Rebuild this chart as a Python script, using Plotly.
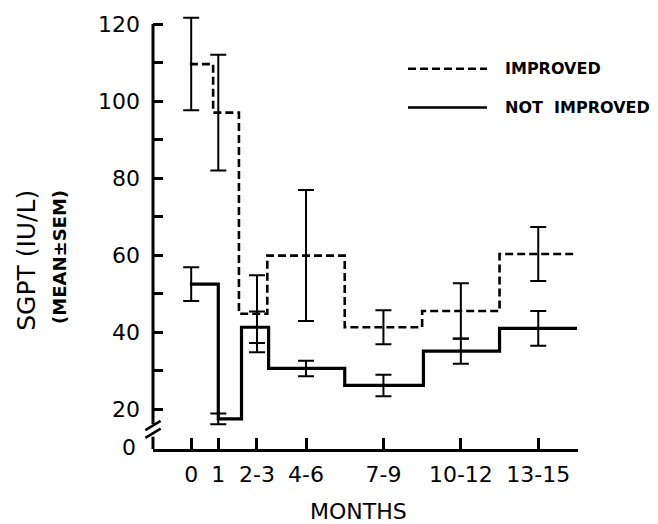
import plotly.graph_objects as go

# ---- data ----
categories = ["0", "1", "2-3", "4-6", "7-9", "10-12", "13-15"]
cat_pos = [0.55, 1.6, 3.1, 5.0, 8.0, 11.0, 14.0]          # month position of each group

improved_mean = [109.6, 97.0, 44.8, 59.9, 41.3, 45.5, 60.3]
improved_sem = [12.0, 15.0, 10.0, 17.0, 4.4, 7.2, 7.0]
improved_edges = [0.5, 1.4, 2.4, 3.5, 6.5, 9.5, 12.5, 15.5]

not_improved_mean = [52.5, 17.5, 41.3, 30.6, 26.2, 35.1, 41.0]
not_improved_sem = [4.4, 1.4, 4.1, 2.0, 2.8, 3.3, 4.5]
not_improved_edges = [0.5, 1.6, 2.5, 3.55, 6.5, 9.55, 12.5, 15.5]

y_major = [20, 40, 60, 80, 100, 120]
y_minor = [30, 50, 70, 90, 110]
y_bottom = 9.7      # broken axis: bottom of plot labelled "0"
y_top = 122.6
y_break = (12.9, 16.2)

FONT = "DejaVu Sans"
TOP_PX = 12
BOT_PX = 449
PLOT_H = BOT_PX - TOP_PX

fig = go.Figure()

# step lines
fig.add_trace(go.Scatter(
    x=improved_edges, y=improved_mean + [improved_mean[-1]],
    mode="lines", line=dict(shape="hv", color="black", width=2.6, dash="8px,4px"),
    showlegend=False, cliponaxis=False))
fig.add_trace(go.Scatter(
    x=not_improved_edges, y=not_improved_mean + [not_improved_mean[-1]],
    mode="lines", line=dict(shape="hv", color="black", width=3.2),
    showlegend=False, cliponaxis=False))

# error bars
for mean, sem in [(improved_mean, improved_sem), (not_improved_mean, not_improved_sem)]:
    fig.add_trace(go.Scatter(
        x=cat_pos, y=mean, mode="markers",
        marker=dict(size=1, color="rgba(0,0,0,0)"),
        error_y=dict(type="data", array=sem, visible=True, color="black",
                     thickness=2, width=8),
        showlegend=False, cliponaxis=False))

shapes = []
# y axis line with break
shapes.append(dict(type="line", xref="paper", yref="y", x0=0, x1=0, y0=120, y1=y_break[1],
                   line=dict(color="black", width=3)))
shapes.append(dict(type="line", xref="paper", yref="y", x0=0, x1=0, y0=y_break[0], y1=y_bottom,
                   line=dict(color="black", width=3)))
# break marks
for yc in [y_break[1] - 0.4, y_break[0] + 0.9]:
    shapes.append(dict(type="line", xref="paper", yref="y",
                       x0=-0.018, x1=0.018, y0=yc - 1.2, y1=yc + 1.2,
                       line=dict(color="black", width=2.5)))

def px_x(px):
    return (px - 153) / 425.0

def px_y(py):
    return (BOT_PX - py) / float(PLOT_H)

# legend (manual)
shapes.append(dict(type="line", xref="paper", yref="paper",
                   x0=px_x(408), x1=px_x(487), y0=px_y(67), y1=px_y(67),
                   line=dict(color="black", width=2.4, dash="8px,4px")))
shapes.append(dict(type="line", xref="paper", yref="paper",
                   x0=px_x(408), x1=px_x(487), y0=px_y(106), y1=px_y(106),
                   line=dict(color="black", width=2.6)))

annotations = [
    dict(xref="paper", yref="paper", x=px_x(503), y=px_y(67), xanchor="left", yanchor="middle",
         text="IMPROVED", showarrow=False, font=dict(family=FONT, size=16, color="black", weight="bold")),
    dict(xref="paper", yref="paper", x=px_x(503), y=px_y(106), xanchor="left", yanchor="middle",
         text="NOT  IMPROVED", showarrow=False, font=dict(family=FONT, size=16, color="black", weight="bold")),
    dict(xref="paper", yref="y", x=px_x(138), y=y_bottom + 0.4, xanchor="right", yanchor="middle",
         text="0", showarrow=False, font=dict(family=FONT, size=22, color="black")),
    dict(xref="paper", yref="paper", x=px_x(27), y=px_y(260), xanchor="center", yanchor="middle",
         text="SGPT (IU/L)", textangle=-90, showarrow=False,
         font=dict(family=FONT, size=25, color="black")),
    dict(xref="paper", yref="paper", x=px_x(60), y=px_y(256), xanchor="center", yanchor="middle",
         text="(MEAN±SEM)", textangle=-90, showarrow=False,
         font=dict(family=FONT, size=18, color="black", weight="bold")),
    dict(xref="paper", yref="paper", x=px_x(358), y=px_y(512), xanchor="center", yanchor="middle",
         text="MONTHS", showarrow=False, font=dict(family=FONT, size=22, color="black")),
]

fig.update_layout(
    width=658, height=524,
    margin=dict(l=153, r=80, t=TOP_PX, b=524 - BOT_PX),
    paper_bgcolor="white", plot_bgcolor="white",
    shapes=shapes, annotations=annotations,
    showlegend=False,
    xaxis=dict(range=[-0.93, 15.54], showgrid=False, zeroline=False,
               showline=True, linecolor="black", linewidth=3,
               tickmode="array", tickvals=cat_pos, ticktext=categories,
               ticks="inside", ticklen=11, tickwidth=2.5, tickcolor="black",
               ticklabelstandoff=4,
               tickfont=dict(family=FONT, size=22, color="black")),
    yaxis=dict(range=[y_bottom, y_top], showgrid=False, zeroline=False, showline=False,
               tickmode="array", tickvals=y_major, ticktext=[str(v) for v in y_major],
               ticks="inside", ticklen=10, tickwidth=2.5, tickcolor="black",
               ticklabelstandoff=12,
               tickfont=dict(family=FONT, size=22, color="black"),
               minor=dict(tickmode="array", tickvals=y_minor, ticks="inside",
                          ticklen=10, tickwidth=2.5, tickcolor="black")),
)

fig.write_html("out.html")
